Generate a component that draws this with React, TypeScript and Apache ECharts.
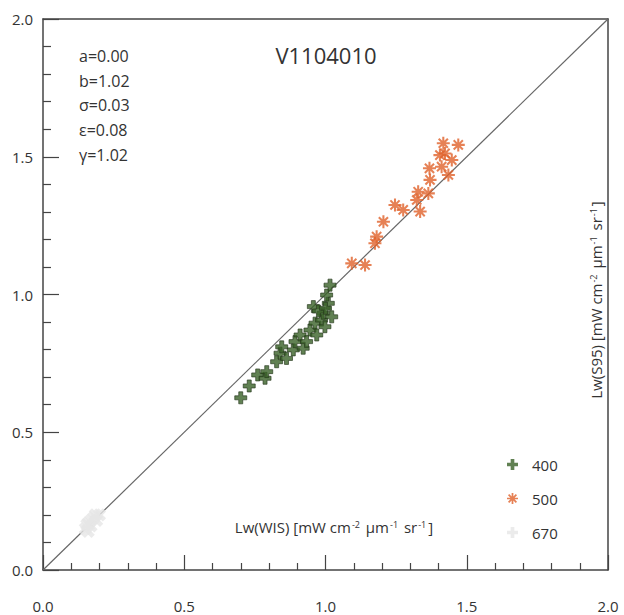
import React, { useEffect, useRef } from "react";
import * as echarts from "echarts";

const xTicks = [0, 0.5, 1.0, 1.5, 2.0];
const stats = ["a=0.00", "b=1.02", "σ=0.03", "ε=0.08", "γ=1.02"];
const title = "V1104010";
const seriesNames = ["400", "500", "670"];
const xName = "Lw(WIS)";
const yName = "Lw(S95)";

const s400: [number, number][] = [
  [0.70, 0.625], [0.73, 0.668], [0.76, 0.708], [0.786, 0.696], [0.792, 0.72],
  [0.827, 0.756], [0.839, 0.787], [0.845, 0.81], [0.862, 0.768], [0.886, 0.799],
  [0.892, 0.829], [0.91, 0.853], [0.921, 0.805], [0.933, 0.829], [0.945, 0.871],
  [0.963, 0.896], [0.969, 0.853], [0.957, 0.956], [0.986, 0.907], [0.992, 0.932],
  [0.998, 0.883], [1.01, 0.968], [1.004, 0.998], [1.016, 1.034], [1.022, 0.919],
  [0.975, 0.94], [1.0, 0.95],
];
const s500: [number, number][] = [
  [1.093, 1.113], [1.14, 1.107], [1.181, 1.21], [1.175, 1.186], [1.205, 1.264],
  [1.246, 1.325], [1.275, 1.307], [1.335, 1.301], [1.323, 1.343], [1.328, 1.373],
  [1.364, 1.367], [1.37, 1.416], [1.368, 1.458], [1.411, 1.464], [1.435, 1.434],
  [1.417, 1.549], [1.423, 1.512], [1.447, 1.488], [1.47, 1.543], [1.405, 1.506],
];
const s670: [number, number][] = [
  [0.15, 0.15], [0.16, 0.17], [0.17, 0.16], [0.18, 0.19], [0.19, 0.18],
  [0.2, 0.2], [0.16, 0.14], [0.17, 0.18], [0.185, 0.2], [0.155, 0.165],
];
const identity: [number, number][] = [[0, 0], [2, 2]];

const FONT = "'Open Sans', 'DejaVu Sans', sans-serif";

const plusPath = "path://M4,0H8V4H12V8H8V12H4V8H0V4H4Z";
// asterisk outline: 8 arms of equal width
const starPath = (() => {
  const R = 6, w = 1.9;
  const ri = (w / 2) / Math.sin(Math.PI / 8);
  const pts: string[] = [];
  for (let k = 0; k < 8; k++) {
    const t = (k * Math.PI) / 4;
    const ux = Math.cos(t), uy = Math.sin(t);
    const px = -Math.sin(t), py = Math.cos(t);
    pts.push(`${(6 + R * ux - (w / 2) * px).toFixed(3)},${(6 + R * uy - (w / 2) * py).toFixed(3)}`);
    pts.push(`${(6 + R * ux + (w / 2) * px).toFixed(3)},${(6 + R * uy + (w / 2) * py).toFixed(3)}`);
    const ti = t + Math.PI / 8;
    pts.push(`${(6 + ri * Math.cos(ti)).toFixed(3)},${(6 + ri * Math.sin(ti)).toFixed(3)}`);
  }
  return "path://M" + pts.join("L") + "Z";
})();

export default function App() {
  const ref = useRef<HTMLDivElement>(null);
  useEffect(() => {
    if (!ref.current) return;
    const chart = echarts.init(ref.current, null, { renderer: "svg" });
    const axisLineStyle = { color: "#444", width: 1.5 };
    const supRich = {
      a: { fontSize: 15, fill: "#333", fontFamily: FONT },
      s: { fontSize: 9, fill: "#333", fontFamily: FONT, verticalAlign: "top" as const, padding: [0, 2, 0, 1] },
    };
    const nameStr = (p: string) =>
      `{a|${p} [mW cm}{s|-2}{a| µm}{s|-1}{a| sr}{s|-1}{a|]}`;
    chart.setOption({
      animation: false,
      backgroundColor: "#fff",
      textStyle: { fontFamily: FONT },
      grid: { left: 43, right: 16, top: 19, bottom: 45, show: false },
      title: {
        text: title,
        left: 321,
        top: 39,
        textAlign: "center",
        textStyle: { fontSize: 22, fontWeight: "normal", color: "#333", fontFamily: FONT },
      },
      graphic: [
        ...stats.map((t, i) => ({
          type: "text",
          left: 79,
          top: 48 + i * 24.7,
          style: { text: t, fontSize: 16, fill: "#333", fontFamily: FONT },
        })),
        {
          type: "text",
          x: 334,
          y: 527,
          style: {
            text: nameStr(xName),
            rich: supRich,
            align: "center",
            verticalAlign: "middle",
          },
        },
        {
          type: "text",
          x: 596,
          y: 300,
          rotation: Math.PI / 2,
          style: {
            text: nameStr(yName),
            rich: supRich,
            align: "center",
            verticalAlign: "middle",
          },
        },
      ],
      legend: {
        data: seriesNames,
        orient: "vertical",
        left: 502,
        top: 452,
        itemWidth: 11,
        itemHeight: 11,
        itemGap: 19,
        itemStyle: { borderWidth: 0 },
        textStyle: { fontSize: 15, color: "#333", fontFamily: FONT, padding: [0, 0, 0, 9] },
      },
      xAxis: [
        {
          type: "value",
          min: 0,
          max: 2,
          interval: 0.5,
          position: "bottom",
          axisLine: { show: true, lineStyle: axisLineStyle },
          axisTick: { show: true, inside: true, length: 15, lineStyle: { color: "#444", width: 1.2 } },
          minorTick: { show: true, splitNumber: 5, length: 7, lineStyle: { color: "#444", width: 1.2 } },
          splitLine: { show: false },
          minorSplitLine: { show: false },
          axisLabel: {
            margin: 28,
            fontSize: 15,
            color: "#333",
            fontFamily: FONT,
            formatter: (v: number) => v.toFixed(1),
          },
        },
        {
          type: "value",
          min: 0,
          max: 2,
          position: "top",
          axisLine: { show: true, onZero: false, lineStyle: axisLineStyle },
          axisTick: { show: false },
          axisLabel: { show: false },
          splitLine: { show: false },
        },
      ],
      yAxis: [
        {
          type: "value",
          min: 0,
          max: 2,
          interval: 0.5,
          position: "left",
          axisLine: { show: true, lineStyle: axisLineStyle },
          axisTick: { show: true, inside: true, length: 16, lineStyle: { color: "#444", width: 1.2 } },
          minorTick: { show: true, splitNumber: 5, length: 8, lineStyle: { color: "#444", width: 1.2 } },
          splitLine: { show: false },
          minorSplitLine: { show: false },
          axisLabel: {
            margin: 10,
            fontSize: 15,
            color: "#333",
            fontFamily: FONT,
            formatter: (v: number) => v.toFixed(1),
          },
        },
        {
          type: "value",
          min: 0,
          max: 2,
          position: "right",
          axisLine: { show: true, onZero: false, lineStyle: axisLineStyle },
          axisTick: { show: false },
          axisLabel: { show: false },
          splitLine: { show: false },
        },
      ],
      series: [
        {
          type: "line",
          data: identity,
          symbol: "none",
          lineStyle: { color: "#666", width: 1.2 },
          silent: true,
          z: 1,
        },
        {
          name: seriesNames[2],
          type: "scatter",
          data: s670,
          symbol: plusPath,
          symbolRotate: 45,
          symbolSize: 14,
          itemStyle: { color: "#e6e6e6" },
          z: 2,
        },
        {
          name: seriesNames[0],
          type: "scatter",
          data: s400,
          symbol: plusPath,
          symbolSize: 12,
          itemStyle: { color: "#3a6228", borderColor: "#24361a", borderWidth: 0.8 },
          z: 3,
        },
        {
          name: seriesNames[1],
          type: "scatter",
          data: s500,
          symbol: starPath,
          symbolSize: 13,
          itemStyle: { color: "#e0622a", borderWidth: 0 },
          z: 3,
        },
      ],
    });
    return () => chart.dispose();
  }, []);
  return (
    <div
      ref={ref}
      style={{ position: "fixed", left: 0, top: 0, width: 624, height: 615 }}
    />
  );
}
